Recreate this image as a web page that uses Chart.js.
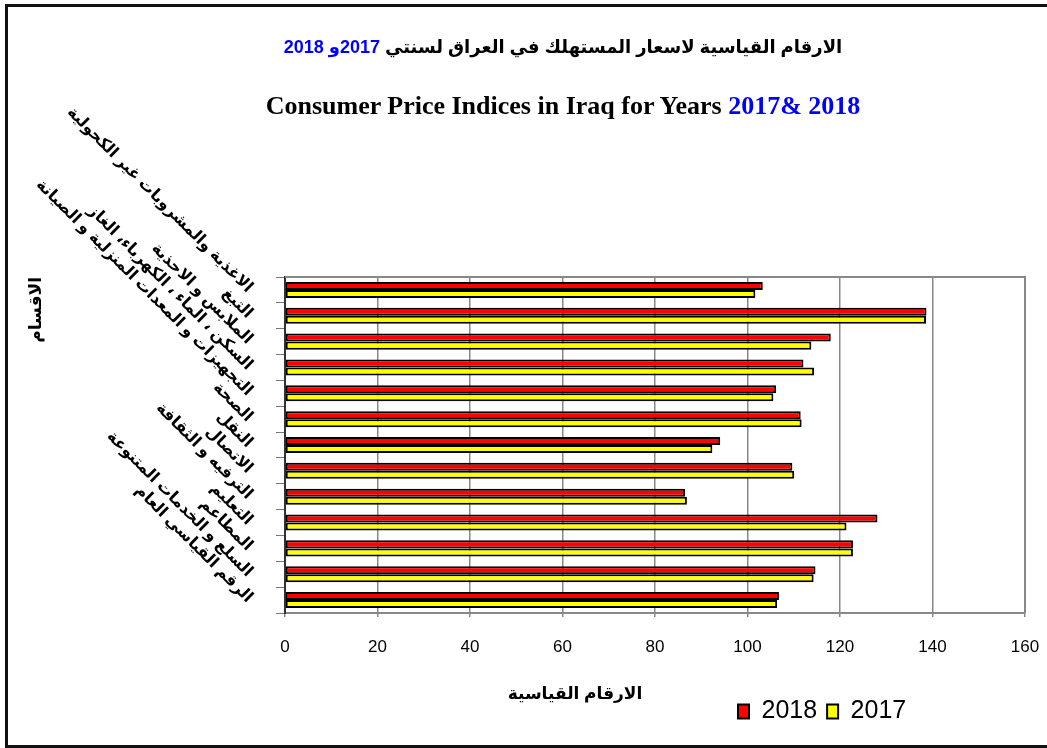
<!DOCTYPE html>
<html>
<head>
<meta charset="utf-8">
<script src="https://cdn.jsdelivr.net/npm/chart.js@4/dist/chart.umd.min.js"></script>
<style>
  body { margin: 0; background: #fff; }
  #wrap { position: relative; width: 1047px; height: 748px; overflow: hidden; }
  #frame { position: absolute; left: 5px; top: 4px; width: 1100px; height: 738px;
           border: 3px solid #111; pointer-events: none; }
  .txt { position: absolute; white-space: nowrap; }
  #t1 { top: 36px; left: 0; width: 1126px; text-align: center; direction: rtl;
        font: bold 18px "Liberation Sans", "DejaVu Sans", sans-serif; }
  #t2 { top: 91px; left: 0; width: 1126px; text-align: center;
        font: bold 26px "Liberation Serif", serif; }
  .blue { color: #0000ff; }
  #xt { top: 683px; left: 500px; width: 150px; text-align: center; direction: rtl;
        font: bold 17px "Liberation Sans", "DejaVu Sans", sans-serif; }
</style>
</head>
<body>
<div id="wrap">
  <canvas id="myChart" width="1047" height="748"></canvas>
  <div id="t1" class="txt">الارقام القياسية لاسعار المستهلك في العراق لسنتي  <span class="blue">2017و 2018</span></div>
  <div id="t2" class="txt">Consumer Price Indices in Iraq for Years <span class="blue">2017&amp; 2018</span></div>
  <div id="xt" class="txt">الارقام القياسية</div>
  <div id="frame"></div>
</div>
<script>
// categories top to bottom
const categories = [
  "الاغذية والمشروبات غير الكحولية",
  "التبغ",
  "الملابس و الاحذية",
  "السكن ، الماء ، الكهرباء، الغاز",
  "التجهيزات و المعدات المنزلية و الصيانة",
  "الصحة",
  "النقل",
  "الاتصال",
  "الترفيه و الثقافة",
  "التعليم",
  "المطاعم",
  "السلع و الخدمات المتنوعة",
  "الرقم القياسي العام"
];
const values2018 = [103.3, 138.7, 118.0, 112.1, 106.2, 111.5, 94.1, 109.7, 86.5, 128.1, 122.8, 114.7, 106.8];
const values2017 = [101.7, 138.6, 113.8, 114.4, 105.6, 111.7, 92.4, 110.1, 86.9, 121.4, 122.8, 114.3, 106.4];
const xTicks = [0, 20, 40, 60, 80, 100, 120, 140, 160];

const arabicFont = '"Liberation Sans", "DejaVu Sans", sans-serif';

// grey frame round the plot area
const plotFrame = {
  id: 'plotFrame',
  afterDraw(chart) {
    const { ctx, chartArea: a } = chart;
    ctx.save();
    ctx.strokeStyle = '#888';
    ctx.lineWidth = 2;
    ctx.beginPath();
    ctx.moveTo(a.left, a.top);
    ctx.lineTo(a.right, a.top);
    ctx.lineTo(a.right, a.bottom);
    ctx.stroke();
    ctx.restore();
  }
};

// put the legend where the original has it
const moveLegend = {
  id: 'moveLegend',
  afterLayout(chart) {
    const lg = chart.legend;
    const w = lg.right - lg.left;
    lg.left = 728;
    lg.right = lg.left + w;
  }
};

const ctx = document.getElementById('myChart').getContext('2d');
new Chart(ctx, {
  type: 'bar',
  data: {
    labels: categories,
    datasets: [
      {
        label: '2018',
        data: values2018,
        backgroundColor: '#ff0000',
        borderColor: '#000',
        borderWidth: 2,
        borderSkipped: false
      },
      {
        label: '2017',
        data: values2017,
        backgroundColor: '#ffff00',
        borderColor: '#000',
        borderWidth: 2,
        borderSkipped: false
      }
    ]
  },
  options: {
    indexAxis: 'y',
    responsive: false,
    animation: false,
    layout: { padding: { left: 12, right: 22, top: 277, bottom: 14 } },
    datasets: { bar: { categoryPercentage: 0.62, barPercentage: 1.0 } },
    scales: {
      x: {
        min: 0,
        max: 160,
        afterBuildTicks: (scale) => { scale.ticks = xTicks.map(v => ({ value: v })); },
        afterFit: (scale) => {
          scale.height = 76;
          scale.paddingLeft = 10;
          scale.paddingRight = 10;
        },
        grid: { color: '#888', lineWidth: 1.5, tickLength: 4 },
        border: { color: '#888', width: 2 },
        ticks: {
          padding: 20,
          color: '#000',
          font: { family: '"Liberation Sans", Arial, sans-serif', size: 17 }
        }
      },
      y: {
        afterFit: (scale) => {
          scale.width = 273;
          scale.paddingTop = 0;
          scale.paddingBottom = 0;
        },
        grid: { drawOnChartArea: false, color: '#777', tickLength: 9, offset: true },
        border: { color: '#333', width: 2 },
        ticks: {
          autoSkip: false,
          minRotation: -45,
          maxRotation: -45,
          padding: 26,
          color: '#000',
          font: { family: arabicFont, size: 16, weight: 'bold' }
        },
        title: {
          display: true,
          text: 'الاقسام',
          align: 'end',
          color: '#000',
          padding: { top: 14 },
          font: { family: arabicFont, size: 17, weight: 'bold' }
        }
      }
    },
    plugins: {
      legend: {
        position: 'bottom',
        align: 'start',
        labels: {
          boxWidth: 11,
          boxHeight: 14,
          padding: 10,
          color: '#000',
          font: { family: '"Liberation Sans", Arial, sans-serif', size: 25 }
        }
      },
      tooltip: { enabled: false }
    }
  },
  plugins: [plotFrame, moveLegend]
});
</script>
</body>
</html>
